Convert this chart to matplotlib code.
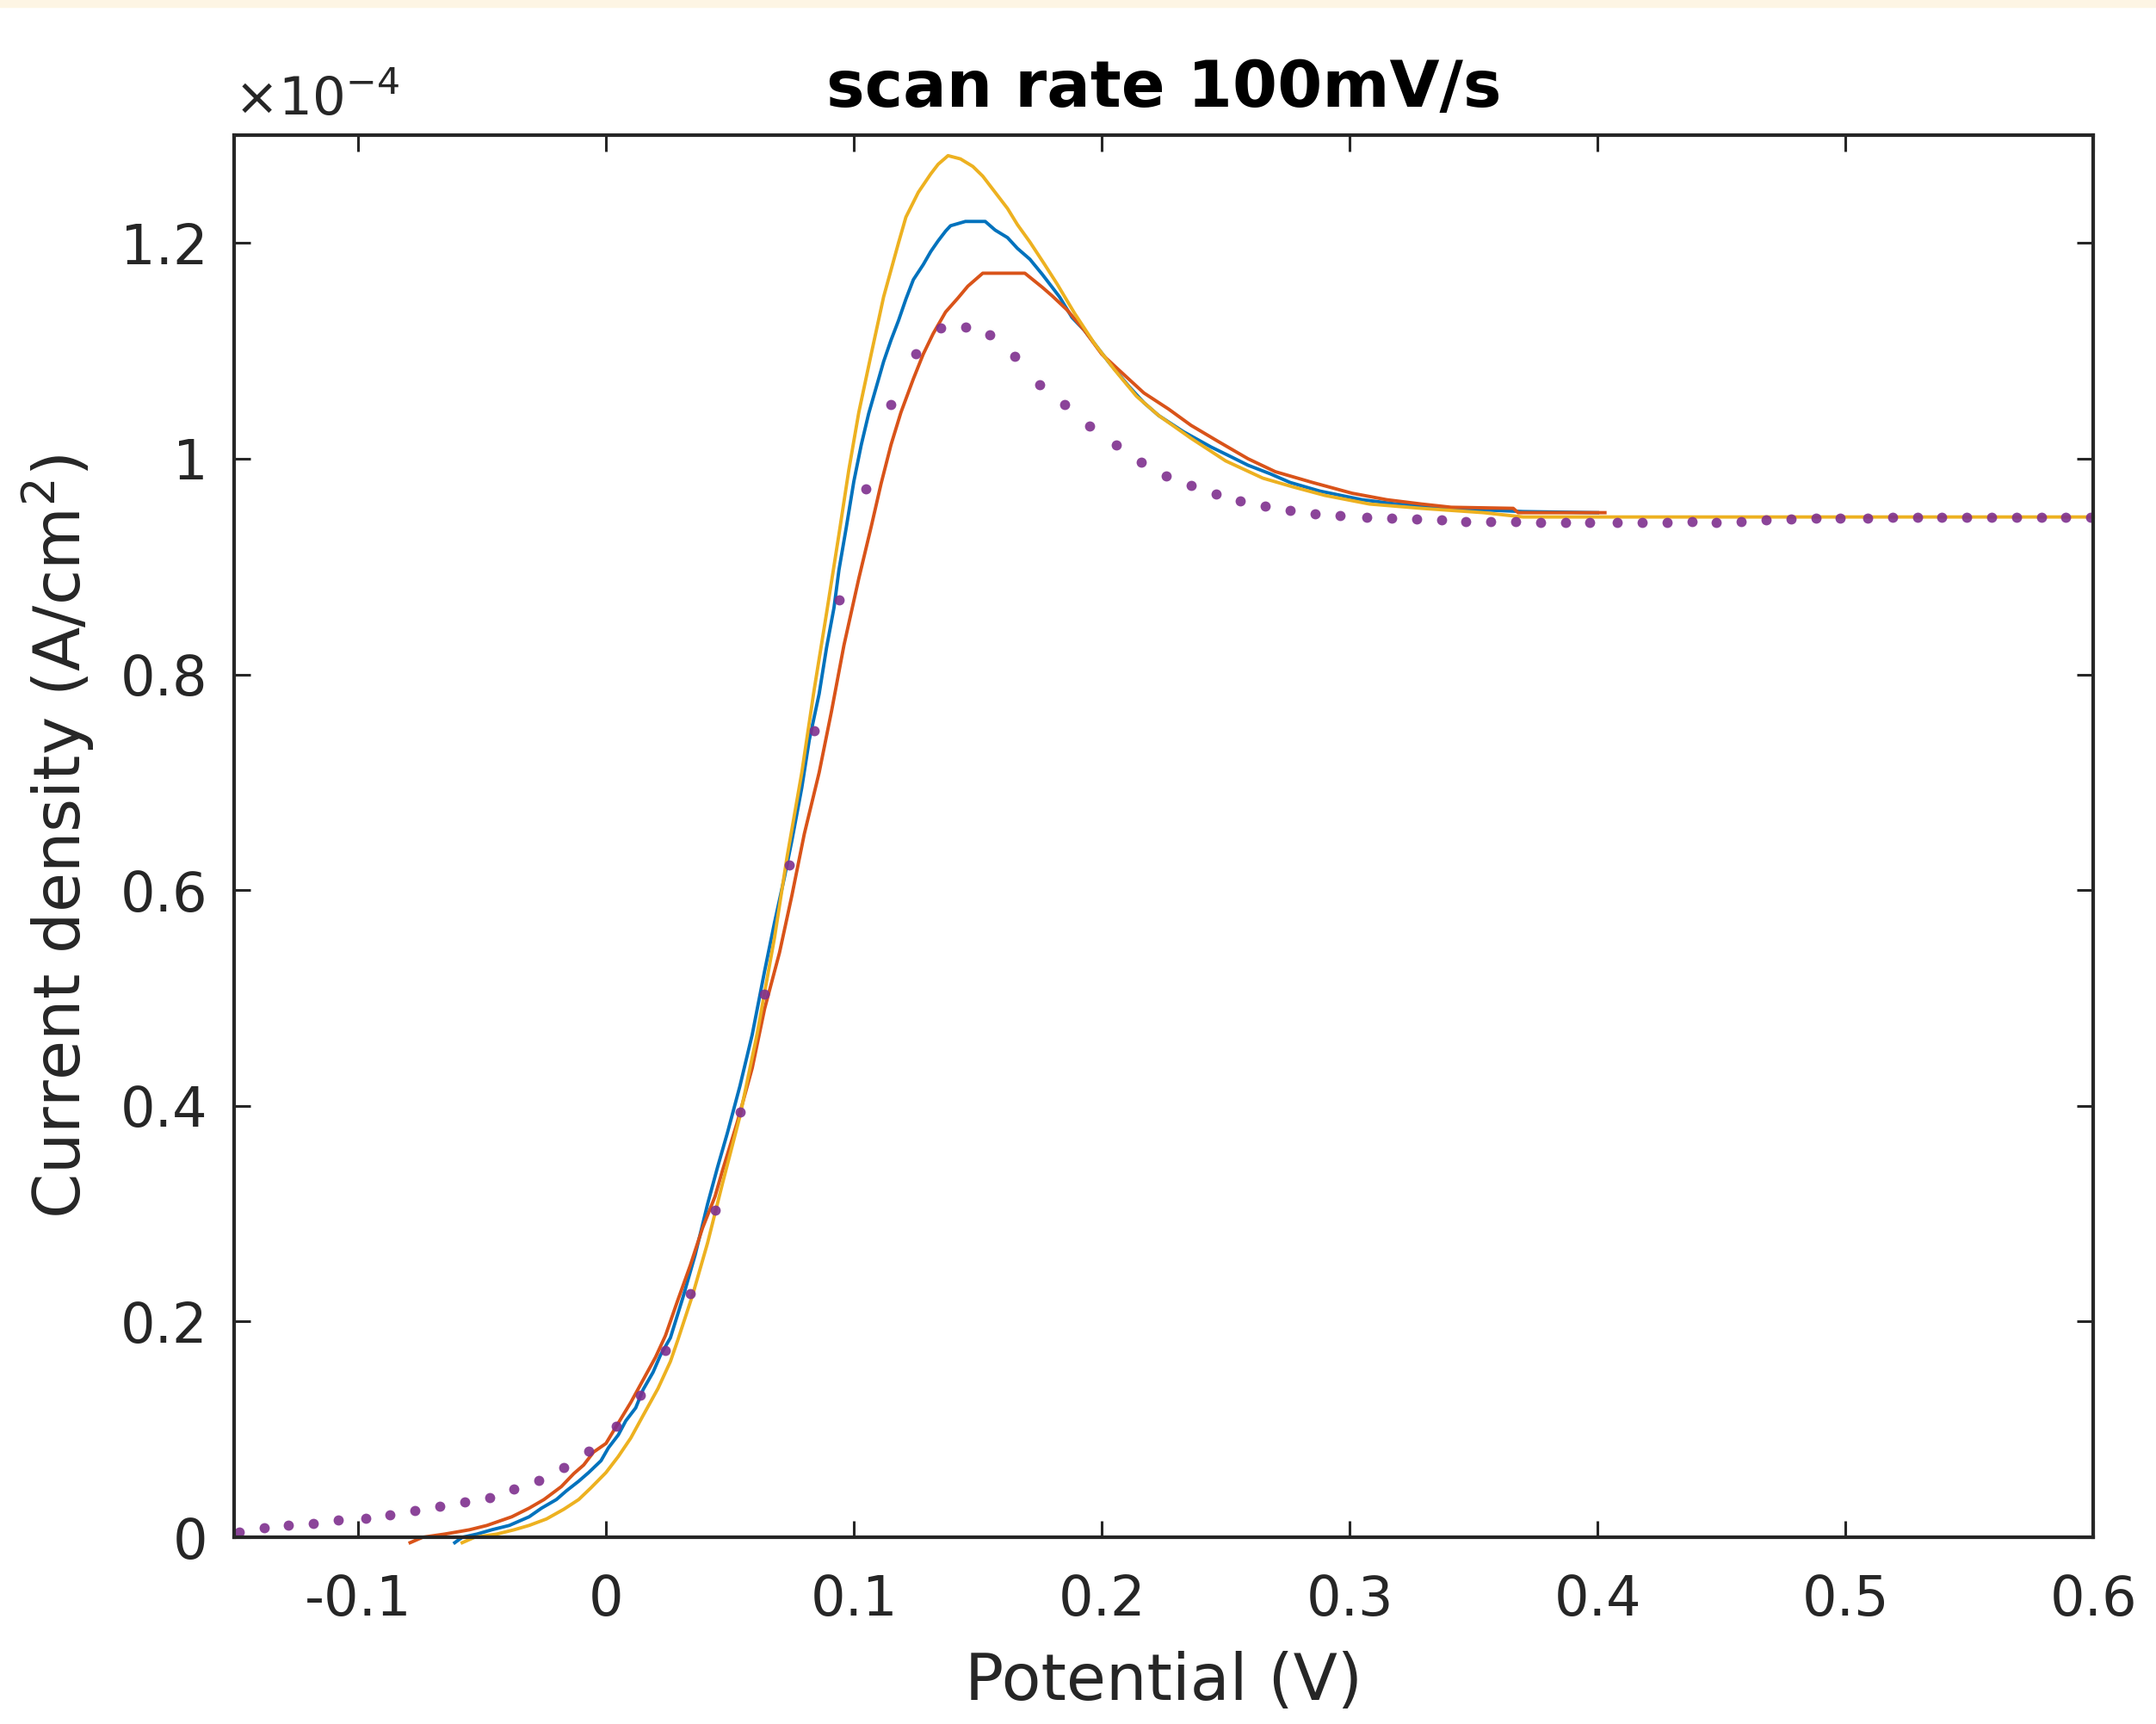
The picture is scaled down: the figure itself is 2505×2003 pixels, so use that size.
import numpy as np
import matplotlib
matplotlib.use("Agg")
import matplotlib.pyplot as plt
from matplotlib.patches import Rectangle

# current density in units of 1e-4 A/cm^2, potential in V
blue_x = [-0.061, -0.058, -0.052, -0.046, -0.039, -0.035, -0.031, -0.026, -0.020, -0.016, -0.011,
          -0.007, -0.002, 0.001, 0.005, 0.008, 0.012, 0.015, 0.019, 0.022, 0.026, 0.031, 0.036,
          0.041, 0.045, 0.049, 0.054, 0.059, 0.064, 0.068, 0.072, 0.075, 0.079, 0.082, 0.086,
          0.089, 0.092, 0.094, 0.097, 0.100, 0.103, 0.106, 0.109, 0.112, 0.115, 0.118, 0.121,
          0.124, 0.128, 0.131, 0.134, 0.137, 0.139, 0.145, 0.153, 0.157, 0.162, 0.166, 0.171,
          0.176, 0.180, 0.183, 0.188, 0.193, 0.197, 0.203, 0.211, 0.217, 0.223, 0.233, 0.244,
          0.252, 0.259, 0.268, 0.276, 0.288, 0.305, 0.319, 0.340, 0.370, 0.400]
blue_y = [-0.005, 0.000, 0.003, 0.007, 0.011, 0.015, 0.019, 0.027, 0.035, 0.043, 0.052,
          0.060, 0.071, 0.083, 0.095, 0.108, 0.120, 0.137, 0.153, 0.169, 0.185, 0.222, 0.262,
          0.309, 0.343, 0.375, 0.418, 0.466, 0.525, 0.570, 0.612, 0.646, 0.695, 0.739, 0.782,
          0.825, 0.862, 0.897, 0.937, 0.979, 1.013, 1.042, 1.066, 1.090, 1.110, 1.128, 1.148,
          1.166, 1.180, 1.192, 1.202, 1.211, 1.216, 1.220, 1.220, 1.212, 1.205, 1.195, 1.185,
          1.171, 1.159, 1.150, 1.131, 1.119, 1.107, 1.089, 1.067, 1.052, 1.040, 1.025, 1.011,
          1.002, 0.994, 0.986, 0.978, 0.970, 0.962, 0.958, 0.954, 0.951, 0.950]

orange_x = [-0.079, -0.074, -0.065, -0.055, -0.048, -0.043, -0.038, -0.031, -0.025, -0.018,
            -0.013, -0.009, -0.005, 0.000, 0.005, 0.010, 0.015, 0.020, 0.024, 0.029, 0.034,
            0.039, 0.044, 0.047, 0.053, 0.059, 0.064, 0.070, 0.075, 0.080, 0.086, 0.091, 0.096,
            0.102, 0.107, 0.111, 0.115, 0.119, 0.124, 0.128, 0.132, 0.137, 0.142, 0.146, 0.152,
            0.169, 0.176, 0.180, 0.186, 0.193, 0.200, 0.208, 0.217, 0.227, 0.236, 0.247, 0.259,
            0.270, 0.285, 0.301, 0.315, 0.329, 0.341, 0.366, 0.368, 0.403]
orange_y = [-0.005, 0.000, 0.003, 0.007, 0.011, 0.015, 0.019, 0.027, 0.035, 0.047,
            0.059, 0.067, 0.079, 0.087, 0.106, 0.125, 0.146, 0.167, 0.187, 0.220, 0.252,
            0.287, 0.316, 0.340, 0.385, 0.435, 0.490, 0.542, 0.595, 0.652, 0.709, 0.766, 0.827,
            0.889, 0.937, 0.977, 1.013, 1.043, 1.074, 1.097, 1.116, 1.136, 1.149, 1.160, 1.172,
            1.172, 1.159, 1.151, 1.138, 1.119, 1.097, 1.080, 1.061, 1.046, 1.031, 1.016, 1.000,
            0.988, 0.978, 0.968, 0.962, 0.958, 0.955, 0.954, 0.950, 0.950]

yellow_x = [-0.058, -0.053, -0.044, -0.037, -0.031, -0.024, -0.017, -0.011, -0.006, 0.000,
            0.005, 0.010, 0.015, 0.021, 0.026, 0.029, 0.035, 0.041, 0.047, 0.054, 0.061, 0.068,
            0.073, 0.079, 0.084, 0.089, 0.094, 0.098, 0.102, 0.107, 0.112, 0.118, 0.121, 0.126,
            0.131, 0.134, 0.138, 0.143, 0.148, 0.152, 0.156, 0.162, 0.166, 0.171, 0.177, 0.182,
            0.189, 0.197, 0.205, 0.214, 0.223, 0.236, 0.250, 0.265, 0.277, 0.290, 0.308, 0.329,
            0.354, 0.370, 0.600]
yellow_y = [-0.005, 0.000, 0.003, 0.007, 0.011, 0.017, 0.026, 0.035, 0.046, 0.060,
            0.075, 0.092, 0.113, 0.138, 0.163, 0.183, 0.225, 0.273, 0.328, 0.390, 0.467, 0.556,
            0.630, 0.709, 0.786, 0.857, 0.930, 0.990, 1.043, 1.097, 1.150, 1.200, 1.224, 1.247,
            1.264, 1.273, 1.281, 1.278, 1.271, 1.262, 1.250, 1.232, 1.217, 1.201, 1.180, 1.162,
            1.135, 1.107, 1.083, 1.058, 1.040, 1.019, 0.998, 0.982, 0.974, 0.966, 0.958, 0.954,
            0.950, 0.946, 0.946]

purple_x = [-0.148, -0.138, -0.128, -0.118, -0.108, -0.097, -0.087, -0.077, -0.067, -0.057,
            -0.047, -0.037, -0.027, -0.017, -0.007, 0.004, 0.014, 0.024, 0.034, 0.044,
            0.054, 0.064, 0.074, 0.084, 0.094, 0.105, 0.115, 0.125, 0.135, 0.145,
            0.155, 0.165, 0.175, 0.185, 0.195, 0.206, 0.216, 0.226, 0.236, 0.246,
            0.256, 0.266, 0.276, 0.286, 0.296, 0.307, 0.317, 0.327, 0.337, 0.347,
            0.357, 0.367, 0.377, 0.387, 0.397, 0.408, 0.418, 0.428, 0.438, 0.448,
            0.458, 0.468, 0.478, 0.488, 0.498, 0.509, 0.519, 0.529, 0.539, 0.549,
            0.559, 0.569, 0.579, 0.589, 0.599]
purple_y = [0.005, 0.009, 0.011, 0.013, 0.016, 0.018, 0.021, 0.025, 0.029, 0.033,
            0.037, 0.045, 0.053, 0.065, 0.080, 0.103, 0.132, 0.173, 0.226, 0.303,
            0.394, 0.504, 0.623, 0.748, 0.869, 0.972, 1.050, 1.097, 1.121, 1.122,
            1.115, 1.095, 1.069, 1.050, 1.030, 1.013, 0.997, 0.984, 0.975, 0.967,
            0.961, 0.956, 0.952, 0.949, 0.947, 0.946, 0.945, 0.944, 0.943, 0.942,
            0.942, 0.942, 0.941, 0.941, 0.941, 0.941, 0.941, 0.941, 0.942, 0.941,
            0.942, 0.943, 0.944, 0.945, 0.945, 0.945, 0.946, 0.946, 0.946, 0.946,
            0.946, 0.946, 0.946, 0.946, 0.946]

x_ticks = [-0.1, 0, 0.1, 0.2, 0.3, 0.4, 0.5, 0.6]
x_ticklabels = ["-0.1", "0", "0.1", "0.2", "0.3", "0.4", "0.5", "0.6"]
y_ticks = [0, 0.2, 0.4, 0.6, 0.8, 1.0, 1.2]
y_ticklabels = ["0", "0.2", "0.4", "0.6", "0.8", "1", "1.2"]

dark = "#262626"
plt.rcParams["font.family"] = "DejaVu Sans"

fig = plt.figure(figsize=(25.05, 20.03), dpi=100)
fig.patches.append(Rectangle((0, 0.996), 1, 0.004, transform=fig.transFigure,
                             color="#fdf5e4", zorder=0))
ax = fig.add_axes([0.1086, 0.1083, 0.8623, 0.8133])

lw = 2.8
ax.plot(blue_x, blue_y, color="#0072BD", lw=lw, clip_on=False)
ax.plot(orange_x, orange_y, color="#D95319", lw=lw, clip_on=False)
ax.plot(yellow_x, yellow_y, color="#EDB120", lw=lw, clip_on=False)
ax.plot(purple_x, purple_y, linestyle="none", marker="o", ms=8.5,
        markerfacecolor="#7E2F8E", markeredgecolor="none", alpha=0.9)

ax.set_xlim(-0.15, 0.6)
ax.set_ylim(0, 1.3)
ax.set_xticks(x_ticks)
ax.set_xticklabels(x_ticklabels)
ax.set_yticks(y_ticks)
ax.set_yticklabels(y_ticklabels)

ax.tick_params(direction="in", length=14, width=2.2, colors=dark, labelsize=46,
               top=True, right=True, pad=22)
ax.tick_params(axis="x", pad=30)
for s in ax.spines.values():
    s.set_linewidth(3)
    s.set_color(dark)

ax.set_xlabel("Potential (V)", fontsize=54, color=dark, labelpad=20)
ax.set_ylabel("Current density (A/cm$^2$)", fontsize=54, color=dark, labelpad=20)
ax.set_title("scan rate 100mV/s", fontsize=54, fontweight="bold", color="black", pad=24)
ax.text(0.0, 1.006, r"$\times$10$^{-4}$", transform=ax.transAxes, fontsize=44,
        color=dark, ha="left", va="bottom")

fig.savefig("out.png", dpi=100)
